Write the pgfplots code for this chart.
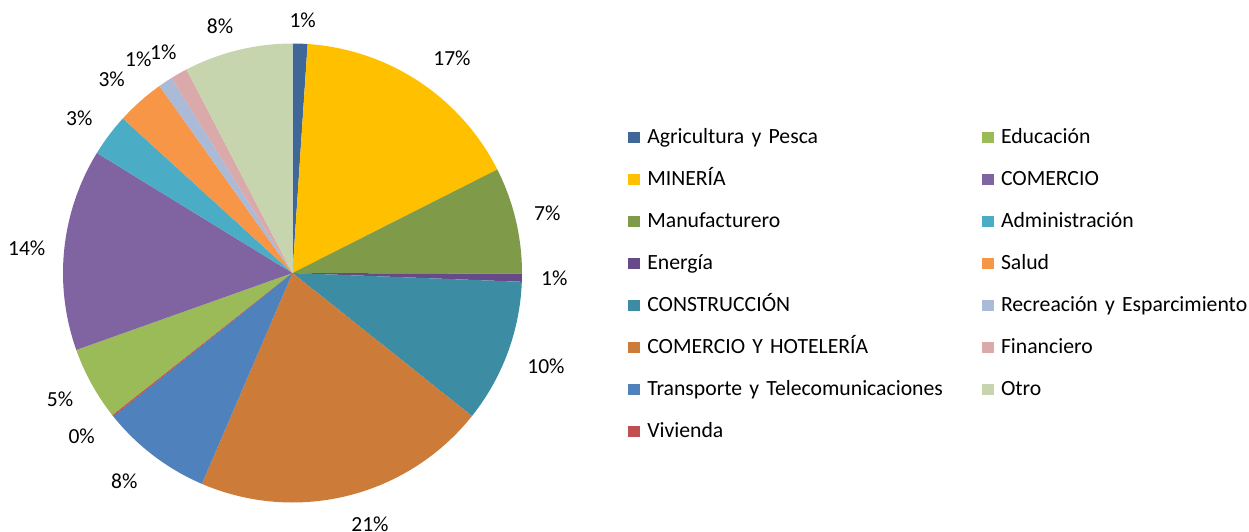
\documentclass[border=0pt]{standalone}
\usepackage{fontspec}
\setmainfont[WordSpace=0.75]{Carlito}
\usepackage{pgfplots}
\usepackage{pgfplotstable}
\pgfplotsset{compat=1.18}
\definecolor{cAgr}{HTML}{3F6899}
\definecolor{cMin}{HTML}{FFC000}
\definecolor{cMan}{HTML}{7F9A48}
\definecolor{cEne}{HTML}{664B88}
\definecolor{cCon}{HTML}{3C8DA3}
\definecolor{cCoH}{HTML}{CD7B38}
\definecolor{cTra}{HTML}{4F81BD}
\definecolor{cViv}{HTML}{C0504D}
\definecolor{cEdu}{HTML}{9BBB59}
\definecolor{cCom}{HTML}{8064A2}
\definecolor{cAdm}{HTML}{4BACC6}
\definecolor{cSal}{HTML}{F79646}
\definecolor{cRec}{HTML}{AABAD7}
\definecolor{cFin}{HTML}{DAA9AA}
\definecolor{cOtr}{HTML}{C7D5AF}
% shares in percent, clockwise from 12 o'clock
\pgfplotstableread{
key value
Agr 1.05
Min 16.5
Man 7.5
Ene 0.56
Con 10.1
CoH 20.75
Tra 7.8
Viv 0.1
Edu 5.2
Com 14.2
Adm 3.0
Sal 3.4
Rec 1.0
Fin 1.2
Otr 7.64
}\pietable
\newcommand\slice[3]{%
  \edef\ta{\csname sa#1\endcsname}\edef\tb{\csname sb#1\endcsname}%
  \addplot[fill=#2, draw=none, domain=\ta:\tb, samples=40] ({sin(x)},{cos(x)}) -- (0,0) -- cycle;
  \addlegendentry{#3}%
}
\begin{document}
\begin{tikzpicture}
\def\cum{0}
\pgfplotsforeachungrouped \i in {0,...,14}{%
  \pgfplotstablegetelem{\i}{value}\of\pietable
  \pgfmathsetmacro\tmpA{\cum*3.6}%
  \pgfmathsetmacro\cum{\cum+\pgfplotsretval}%
  \pgfmathsetmacro\tmpB{\cum*3.6}%
  \expandafter\let\csname sa\i\endcsname\tmpA
  \expandafter\let\csname sb\i\endcsname\tmpB
}
\useasboundingbox (0pt,0pt) rectangle (1249pt,-532pt);
\begin{axis}[
  at={(0pt,-532pt)}, anchor=south west,
  x=229.5pt, y=229.5pt,
  xmin=-1.2745, xmax=4.1678, ymin=-1.1285, ymax=1.1895,
  hide axis, clip=false,
  legend columns=2,
  legend cell align=left,
  legend image code/.code={\fill[#1] (0pt,0pt) rectangle (11.5pt,11.5pt); \path[draw=none,fill=none] (0pt,0pt) rectangle (19pt,1pt);},
  legend style={at={(0.50304,0.76128)}, anchor=north west, draw=none, fill=none,
    inner sep=0pt, outer sep=0pt, row sep=20pt, column sep=0pt,
    font=\fontsize{21.7pt}{26pt}\selectfont,
    nodes={inner sep=0pt, outer sep=0pt, text height=16pt, text depth=6pt, anchor=base west, text width=334.7pt, align=left}},
]
\slice{0}{cAgr}{Agricultura y Pesca}
\slice{8}{cEdu}{Educación}
\slice{1}{cMin}{MINERÍA}
\slice{9}{cCom}{COMERCIO}
\slice{2}{cMan}{Manufacturero}
\slice{10}{cAdm}{Administración}
\slice{3}{cEne}{Energía}
\slice{11}{cSal}{Salud}
\slice{4}{cCon}{CONSTRUCCIÓN}
\slice{12}{cRec}{Recreación y Esparcimiento}
\slice{5}{cCoH}{COMERCIO Y HOTELERÍA}
\slice{13}{cFin}{Financiero}
\slice{6}{cTra}{Transporte y Telecomunicaciones}
\slice{14}{cOtr}{Otro}
\slice{7}{cViv}{Vivienda}
\addplot[forget plot, draw=none, mark=none, nodes near coords, point meta=explicit symbolic,
  every node near coord/.append style={font=\fontsize{21.5pt}{24pt}\selectfont, inner sep=0pt, anchor=center}]
  coordinates {
  (0.0444,1.0993) [1\%]
  (0.695,0.9368) [17\%]
  (1.1102,0.2601) [7\%]
  (1.1407,-0.0231) [1\%]
  (1.1046,-0.4052) [10\%]
  (0.3377,-1.0937) [21\%]
  (-0.7329,-0.9063) [8\%]
  (-0.9185,-0.7133) [0\%]
  (-1.0131,-0.5503) [5\%]
  (-1.1582,0.1076) [14\%]
  (-0.9290,0.6741) [3\%]
  (-0.7878,0.8440) [3\%]
  (-0.6719,0.9312) [1\%]
  (-0.5630,0.9599) [1\%]
  (-0.3159,1.0732) [8\%]
  };
\end{axis}
\end{tikzpicture}
\end{document}
